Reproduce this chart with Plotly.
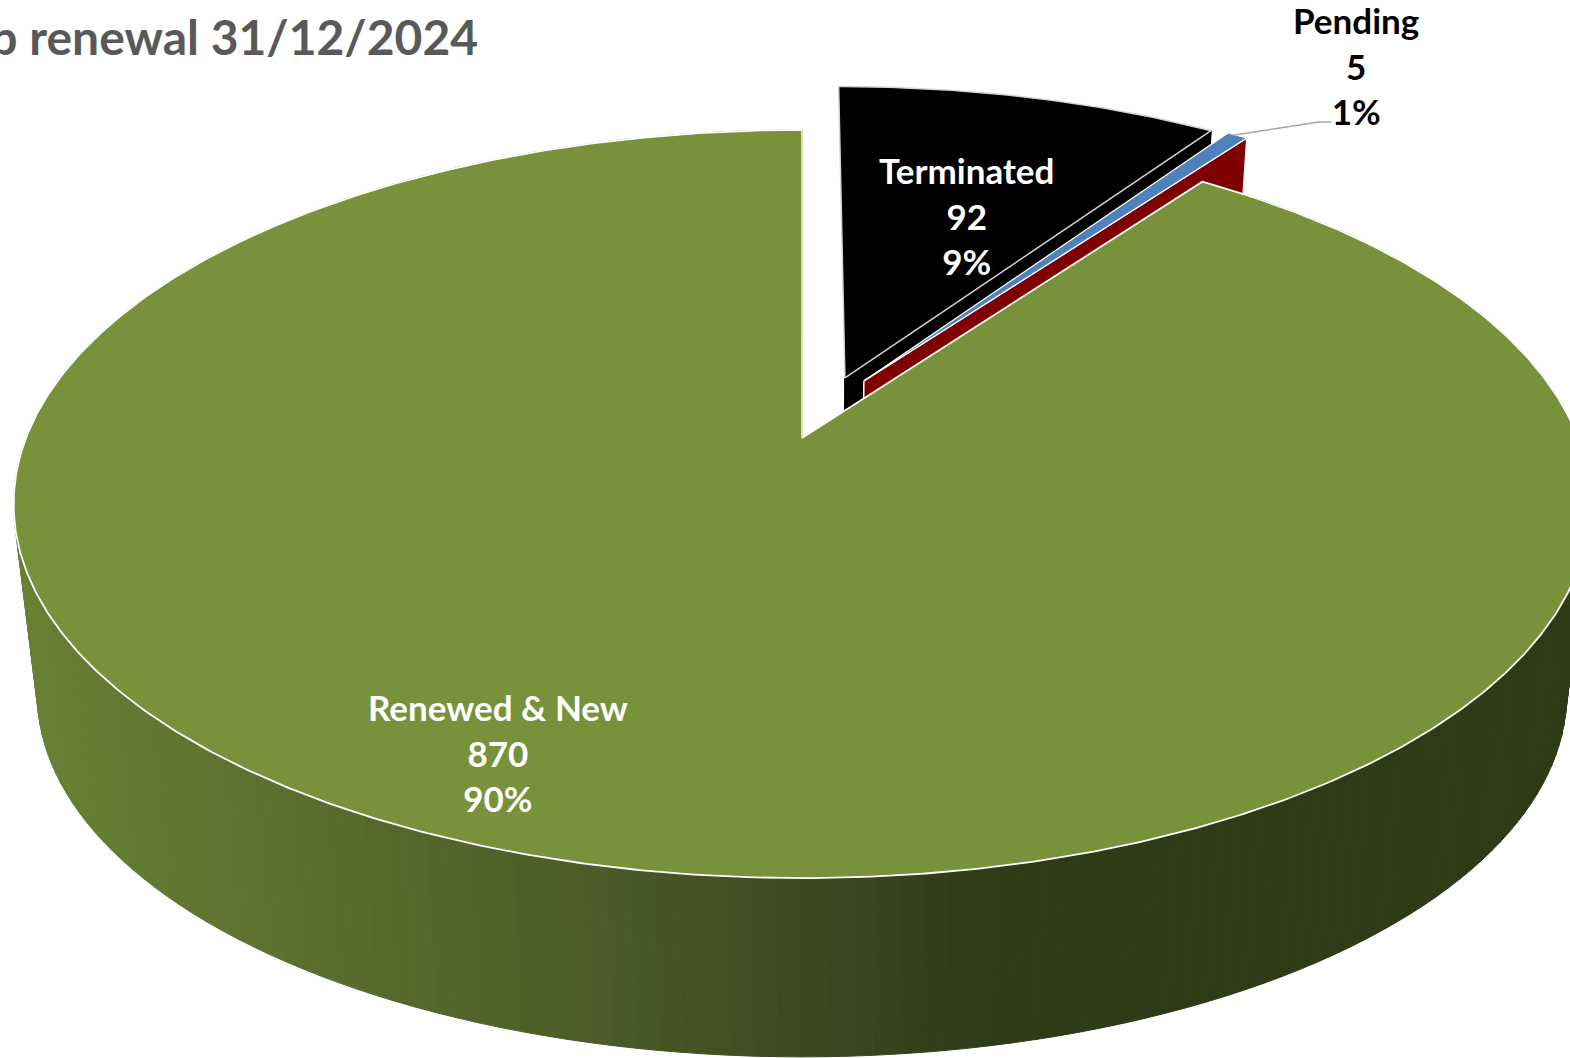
import numpy as np
import plotly.graph_objects as go

# ---- data ----
categories = ["Terminated", "Pending", "Renewed & New"]
counts = [92, 5, 870]
percent_labels = ["9%", "1%", "90%"]
top_colors = ["#000000", "#4f81bd", "#77923a"]
wall_colors = ["#000000", "#7f0000", None]
explode_u = [0.057, 0.082, 0.0]
explode_v = [0.1706, 0.1618, 0.0]
label_x = [966, 1356, 498]
label_y = [215, 65, 752]
label_colors = ["white", "black", "white"]
title_text = "Group renewal 31/12/2024"

# ---- 3D-pie projection ----
CX, CY = 802.0, 438.0
A, B, P = 776.0, 362.4, 0.1765
DEPTH_SCALE, DEPTH_DY = 0.97, 192.0


def project(u, v, z=0.0):
    w = 1 + P * np.asarray(v)
    x = A * np.asarray(u) / w
    y = -B * np.asarray(v) / w
    s = 1 + (DEPTH_SCALE - 1) * z
    return CX + s * x, CY + DEPTH_DY * z + s * y


def rim(t0, t1, du, dv, step=0.5):
    n = max(2, int(abs(t1 - t0) / step) + 1)
    t = np.radians(np.linspace(t0, t1, n))
    return np.sin(t) + du, np.cos(t) + dv


total = sum(counts)
edges = np.concatenate([[0], np.cumsum(counts) / total * 360])

WALL_X = [20, 600, 1000]
WALL_R = [104, 76, 47]
WALL_G = [130, 91, 58]
WALL_B = [52, 41, 23]


def wall_color(x):
    return "rgb(%d,%d,%d)" % (
        np.interp(x, WALL_X, WALL_R),
        np.interp(x, WALL_X, WALL_G),
        np.interp(x, WALL_X, WALL_B),
    )


fig = go.Figure()


def poly(xs, ys, fill, line=None, width=1.0):
    fig.add_trace(go.Scatter(
        x=list(xs), y=list(ys), mode="lines", fill="toself", fillcolor=fill,
        line=dict(color=line or fill, width=width), hoverinfo="skip", showlegend=False,
    ))


def radial_wall(angle, du, dv, color, line):
    u0, v0 = np.array([du]), np.array([dv])
    u1, v1 = np.array([np.sin(np.radians(angle)) + du]), np.array([np.cos(np.radians(angle)) + dv])
    xa, ya = project(u0, v0, 0)
    xb, yb = project(u1, v1, 0)
    xc, yc = project(u1, v1, 1)
    xd, yd = project(u0, v0, 1)
    poly([xa[0], xb[0], xc[0], xd[0], xa[0]], [ya[0], yb[0], yc[0], yd[0], ya[0]], color, line, 1.5)


def top_face(t0, t1, du, dv, color, line, width):
    u, v = rim(t0, t1, du, dv)
    x, y = project(np.r_[du, u, du], np.r_[dv, v, dv])
    poly(x, y, color, line, width)


# Terminated slice
radial_wall(edges[1], explode_u[0], explode_v[0], wall_colors[0], "#000000")
top_face(edges[0], edges[1], explode_u[0], explode_v[0], top_colors[0], "#d4d4d4", 1.5)

# Pending slice
radial_wall(edges[2], explode_u[1], explode_v[1], wall_colors[1], "#ffffff")
top_face(edges[1], edges[2], explode_u[1], explode_v[1], top_colors[1], "#ffffff", 1.2)

# Renewed & New: outer wall split in strips for the shading, then its top
seg = np.linspace(edges[2], edges[3], 217)
for a, b in zip(seg[:-1], seg[1:]):
    u, v = rim(a, b, 0, 0, step=1)
    xt, yt = project(u, v, 0)
    xb, yb = project(u, v, 1)
    col = wall_color(float(np.mean(np.r_[xt, xb])))
    poly(np.r_[xt, xb[::-1], xt[0]], np.r_[yt, yb[::-1], yt[0]], col, col, 1)
top_face(edges[2], edges[3], 0, 0, top_colors[2], "#ffffff", 1.8)

# Pale edge along the cut at twelve o'clock
ex, ey = project(np.array([0.0, 0.0]), np.array([1.0, 0.0]))
fig.add_trace(go.Scatter(
    x=ex, y=ey, mode="lines", line=dict(color="#c5cfa8", width=1.2),
    hoverinfo="skip", showlegend=False,
))

# Leader line of the Pending label
lu, lv = rim(edges[1] + 0.5, edges[1] + 0.5, explode_u[1], explode_v[1])
lx, ly = project(lu[:1], lv[:1])
fig.add_trace(go.Scatter(
    x=[lx[0], label_x[1] - 37, label_x[1] - 25], y=[ly[0] + 1, label_y[1] + 57, label_y[1] + 57],
    mode="lines", line=dict(color="#a6a6a6", width=1.5), hoverinfo="skip", showlegend=False,
))

for name, n, pct, x, y, c in zip(categories, counts, percent_labels, label_x, label_y, label_colors):
    fig.add_annotation(
        x=x, y=y, xref="x", yref="y", text=f"<b>{name}<br>{n}<br>{pct}</b>",
        showarrow=False, xanchor="center", yanchor="middle", align="center",
        font=dict(family="Lato", size=35, color=c),
    )

fig.add_annotation(
    x=480, y=36, xref="x", yref="y", text=f"<b>{title_text}</b>", showarrow=False,
    xanchor="right", yanchor="middle", font=dict(family="Lato", size=48, color="#595959"),
)

fig.update_layout(
    width=1570, height=1058, margin=dict(l=0, r=0, t=0, b=0),
    paper_bgcolor="white", plot_bgcolor="white", showlegend=False,
    xaxis=dict(range=[0, 1570], visible=False, fixedrange=True),
    yaxis=dict(range=[1058, 0], visible=False, fixedrange=True),
)
fig.write_html(
    "out.html", config={"displayModeBar": False},
    post_script="document.body.style.margin='0';document.body.style.overflow='hidden';",
)
